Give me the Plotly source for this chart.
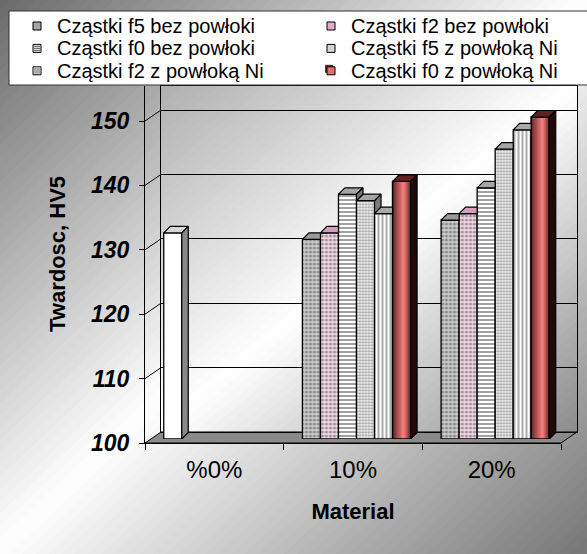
import plotly.graph_objects as go

# ---- data -------------------------------------------------------------
CATEGORIES = ["%0%", "10%", "20%"]
SERIES = [
    "Cząstki f5 bez powłoki",
    "Cząstki f2 bez powłoki",
    "Cząstki f0 bez powłoki",
    "Cząstki f5 z powłoką Ni",
    "Cząstki f2 z powłoką Ni",
    "Cząstki f0 z powłoką Ni",
]
f5_bez = [132, 131, 134]
f2_bez = [None, 132, 135]
f0_bez = [None, 138, 139]
f5_ni = [None, 137, 145]
f2_ni = [None, 135, 148]
f0_ni = [None, 140, 150]
VALUES = [f5_bez, f2_bez, f0_bez, f5_ni, f2_ni, f0_ni]
Y_TICKS = [100, 110, 120, 130, 140, 150]
BASE = 100

# ---- page geometry (pixels) ---------------------------------------------
W, H = 587, 554
PX_PER_UNIT = 6.44
TOP_PX = 86
FRONT_X, FRONT_BASE = (145, 561), 443      # front edge of the floor / value axis
BACK_X, BACK_BASE = (161, 577), 432        # back wall
BAR_DX, BAR_BASE = 3.5, 439                # bars stand in the middle of the floor
DEPTH = 6.5                                # bar depth, drawn up and to the right
CAT_PX = (FRONT_X[1] - FRONT_X[0]) / len(CATEGORIES)

FONT = "Liberation Sans, Arial, sans-serif"


def fx(px):
    return px / W


def fy(py):
    return 1 - py / H


def top_value(base_px):
    return BASE + (base_px - TOP_PX) / PX_PER_UNIT


# ---- background gradients as diagonal bands ---------------------------------
def clip(poly, f):
    out = []
    n = len(poly)
    for k in range(n):
        p, q = poly[k], poly[(k + 1) % n]
        fp, fq = f(p), f(q)
        if fp >= 0:
            out.append(p)
        if (fp >= 0) != (fq >= 0):
            s = fp / (fp - fq)
            out.append((p[0] + s * (q[0] - p[0]), p[1] + s * (q[1] - p[1])))
    return out


def gray(t, c0, c1):
    if t < 0.5:
        g = c0 + (255 - c0) * (t / 0.5)
    else:
        g = 255 - (255 - c1) * ((t - 0.5) / 0.5)
    g = int(round(g))
    return f"rgb({g},{g},{g})"


def gradient_bands(x0, y0, x1, y1, c0, c1, n=70):
    rect = [(x0, y0), (x1, y0), (x1, y1), (x0, y1)]

    def t(p):
        return ((p[0] - x0) / (x1 - x0) + (p[1] - y0) / (y1 - y0)) / 2

    shapes = []
    for k in range(n):
        a, b = k / n - 0.003, (k + 1) / n + 0.003
        poly = clip(rect, lambda p: t(p) - a)
        poly = clip(poly, lambda p: b - t(p))
        if len(poly) < 3:
            continue
        path = "M " + " L ".join(f"{fx(x):.5f},{fy(y):.5f}" for x, y in poly) + " Z"
        shapes.append(dict(type="path", path=path, xref="paper", yref="paper",
                           fillcolor=gray((k + 0.5) / n, c0, c1),
                           line=dict(width=0), layer="below"))
    return shapes


shapes = []
shapes += gradient_bands(0, 0, W, H, 105, 118, n=90)
shapes += gradient_bands(BACK_X[0], TOP_PX, BACK_X[1], BACK_BASE, 175, 140, n=70)

# floor slab
floor = [(FRONT_X[0], FRONT_BASE), (FRONT_X[1], FRONT_BASE),
         (BACK_X[1], BACK_BASE), (BACK_X[0], BACK_BASE)]
shapes.append(dict(type="path", xref="paper", yref="paper", layer="below",
                   path="M " + " L ".join(f"{fx(x):.5f},{fy(y):.5f}" for x, y in floor) + " Z",
                   fillcolor="#8a8a8a", line=dict(color="black", width=1)))

# grid lines running across the left side wall
for v in Y_TICKS[1:]:
    yf = FRONT_BASE - (v - BASE) * PX_PER_UNIT
    yb = BACK_BASE - (v - BASE) * PX_PER_UNIT
    shapes.append(dict(type="line", xref="paper", yref="paper", layer="below",
                       x0=fx(FRONT_X[0]), y0=fy(yf), x1=fx(BACK_X[0]), y1=fy(yb),
                       line=dict(color="black", width=1)))

# ---- bars -------------------------------------------------------------
N = len(SERIES)
BAR_W = 0.13
GROUP_START = -N * BAR_W / 2
x_idx = list(range(len(CATEGORIES)))

STYLES = [
    dict(color="#cfcfcf", shape=".", fg="#606060", size=4, sol=0.5, top="#9a9a9a", side="#6c6c6c"),
    dict(color="#f7dcea", shape=".", fg="#c874a4", size=4, sol=0.5, top="#d39fbe", side="#9a6a86"),
    dict(color="#ffffff", shape="-", fg="#8a8a8a", size=4, sol=0.5, top="#a6a6a6", side="#787878"),
    dict(color="#f6f6f6", shape=".", fg="#9c9c9c", size=3, sol=0.45, top="#a4a4a4", side="#7a7a7a"),
    dict(color="#ffffff", shape="|", fg="#7c7c7c", size=4, sol=0.45, top="#aaaaaa", side="#7c7c7c"),
    dict(color="#6e2c2c", shape="", fg="#6e2c2c", size=4, sol=0.5, top="#5e2222", side="#220808"),
]
PLAIN_TOP, PLAIN_SIDE = "#d8d8d8", "#888888"

# the front axes and the back wall each get their own (empty) trace so that
# their subplots are laid out and drawn
traces = [
    go.Scatter(x=[], y=[], xaxis="x", yaxis="y", hoverinfo="skip", showlegend=False),
    go.Scatter(x=[], y=[], xaxis="x2", yaxis="y2", hoverinfo="skip", showlegend=False),
]
for i in range(N):
    st = STYLES[i]
    vals = VALUES[i]
    colors = [st["color"]] * len(vals)
    pshapes = [st["shape"]] * len(vals)
    if i == 0:
        colors[0] = "#ffffff"
        pshapes[0] = ""
    traces.append(go.Bar(
        x=x_idx, y=[None if v is None else v - BASE for v in vals], base=BASE,
        width=BAR_W, offset=GROUP_START + i * BAR_W,
        name=SERIES[i], showlegend=False, hoverinfo="skip",
        xaxis="x3", yaxis="y3",
        marker=dict(color=colors, line=dict(color="black", width=1.3),
                    pattern=dict(shape=pshapes, fgcolor=st["fg"], size=st["size"],
                                 solidity=st["sol"], fillmode="overlay")),
    ))

# shaded front of the last series: narrower, lighter bars layered on top
def mix(c_a, c_b, s):
    a = [int(c_a[k:k + 2], 16) for k in (1, 3, 5)]
    b = [int(c_b[k:k + 2], 16) for k in (1, 3, 5)]
    return "#" + "".join(f"{int(round(a[j] + (b[j] - a[j]) * s)):02x}" for j in range(3))

EDGE, GLOW, PEAK = "#6e2c2c", "#f27c7c", 0.62
LEVELS = 8
last = VALUES[-1]
for k in range(1, LEVELS):
    a = 1 - k / LEVELS
    traces.append(go.Bar(
        x=x_idx, y=[None if v is None else v - BASE for v in last], base=BASE,
        width=BAR_W * a, offset=GROUP_START + (N - 1) * BAR_W + BAR_W * PEAK * (1 - a),
        showlegend=False, hoverinfo="skip", xaxis="x3", yaxis="y3",
        marker=dict(color=mix(EDGE, GLOW, k / (LEVELS - 1)), line=dict(width=0)),
    ))
traces.append(go.Bar(
    x=x_idx, y=[None if v is None else v - BASE for v in last], base=BASE,
    width=BAR_W, offset=GROUP_START + (N - 1) * BAR_W,
    showlegend=False, hoverinfo="skip", xaxis="x3", yaxis="y3",
    marker=dict(color="rgba(0,0,0,0)", line=dict(color="black", width=1.3)),
))

# top and right faces of each column
kx = DEPTH / CAT_PX
ky = DEPTH / PX_PER_UNIT
faces = {}
for c in range(len(CATEGORIES)):
    for i in range(N):
        h = VALUES[i][c]
        if h is None:
            continue
        L = c + GROUP_START + i * BAR_W
        R = L + BAR_W
        hn = VALUES[i + 1][c] if i + 1 < N else None
        plain = (i == 0 and c == 0)
        top_col = PLAIN_TOP if plain else STYLES[i]["top"]
        side_col = PLAIN_SIDE if plain else STYLES[i]["side"]
        if hn is not None and hn >= h + ky:
            # the neighbour's front hides everything right of this column
            top = [(L, h), (R, h), (R, h + ky), (L + kx, h + ky)]
        elif hn is not None and hn > h:
            top = [(L, h), (R, h), (R, hn), (R + kx * (hn - h) / ky, hn),
                   (R + kx, h + ky), (L + kx, h + ky)]
        else:
            top = [(L, h), (R, h), (R + kx, h + ky), (L + kx, h + ky)]
        faces.setdefault(top_col, []).append(top)
        hb = BASE if hn is None else hn
        if hb < h:
            side = [(R, hb), (R, h), (R + kx, h + ky), (R + kx, hb + ky)]
            faces.setdefault(side_col, []).append(side)

for col, polys in faces.items():
    xs, ys = [], []
    for poly in polys:
        xs += [p[0] for p in poly] + [poly[0][0], None]
        ys += [p[1] for p in poly] + [poly[0][1], None]
    traces.append(go.Scatter(x=xs, y=ys, mode="lines", fill="toself", fillcolor=col,
                             line=dict(color="black", width=1.2), hoverinfo="skip",
                             showlegend=False, xaxis="x3", yaxis="y3"))

fig = go.Figure(traces)

# ---- legend box ---------------------------------------------------------
shapes.append(dict(type="rect", xref="paper", yref="paper", layer="above",
                   x0=fx(9), y0=fy(11), x1=fx(W + 5), y1=fy(85),
                   fillcolor="white", line=dict(color="#333333", width=1)))
SWATCH = ["#a6a6a6", "#e0aecb", "#e4e4e4", "#d4d4d4", "#ffffff", "#e07070"]
SWATCH_STRIPES = [None, None, "h", None, "v", None]
ROW_Y = [26, 48.4, 70.8]
COL_SW = [33, 327]
COL_TX = [55, 349]
annotations = []
for k, name in enumerate(SERIES):
    r, cc = k // 2, k % 2
    y = ROW_Y[r]
    x0 = COL_SW[cc]
    if k == N - 1:
        shapes.append(dict(type="rect", xref="paper", yref="paper", layer="above",
                           x0=fx(x0 - 2), y0=fy(y - 6), x1=fx(x0 + 6), y1=fy(y + 2),
                           fillcolor="#6e2c2c", line=dict(width=0)))
    shapes.append(dict(type="rect", xref="paper", yref="paper", layer="above",
                       x0=fx(x0), y0=fy(y - 4), x1=fx(x0 + 8), y1=fy(y + 4),
                       fillcolor=SWATCH[k], line=dict(color="black", width=1)))
    for s in (-2, 0, 2):
        if SWATCH_STRIPES[k] == "h":
            shapes.append(dict(type="line", xref="paper", yref="paper", layer="above",
                               x0=fx(x0 + 1), x1=fx(x0 + 7), y0=fy(y + s), y1=fy(y + s),
                               line=dict(color="#666666", width=1)))
        elif SWATCH_STRIPES[k] == "v":
            shapes.append(dict(type="line", xref="paper", yref="paper", layer="above",
                               x0=fx(x0 + 4 + s), x1=fx(x0 + 4 + s), y0=fy(y - 3), y1=fy(y + 3),
                               line=dict(color="#555555", width=1)))
    annotations.append(dict(text=name, x=fx(COL_TX[cc]), y=fy(y), xref="paper", yref="paper",
                            xanchor="left", yanchor="middle", showarrow=False,
                            font=dict(family=FONT, size=20, color="black")))

annotations.append(dict(text="Twardosc, HV5", x=fx(57), y=fy(254), xref="paper", yref="paper",
                        textangle=-90, showarrow=False, xanchor="center", yanchor="middle",
                        font=dict(family=FONT, size=22, color="black", weight="bold")))

fig.update_layout(
    width=W, height=H, autosize=False,
    margin=dict(l=0, r=0, t=0, b=0),
    paper_bgcolor="white", plot_bgcolor="rgba(0,0,0,0)",
    barmode="overlay", showlegend=False,
    shapes=shapes, annotations=annotations,
    xaxis=dict(domain=[fx(FRONT_X[0]), fx(FRONT_X[1])], range=[-0.5, len(CATEGORIES) - 0.5],
               tickvals=x_idx, ticktext=CATEGORIES, ticks="", showgrid=False, zeroline=False,
               showline=True, linecolor="black", linewidth=1, anchor="y",
               minor=dict(tickvals=[c - 0.5 for c in range(len(CATEGORIES) + 1)],
                          ticks="outside", ticklen=6, tickcolor="black", showgrid=False),
               tickfont=dict(family=FONT, size=24, color="black"), ticklabelstandoff=5,
               title=dict(text="Material", standoff=21,
                          font=dict(family=FONT, size=22, color="black", weight="bold")),
               automargin=False),
    yaxis=dict(domain=[fy(FRONT_BASE), fy(TOP_PX)], range=[BASE, top_value(FRONT_BASE)],
               tickvals=Y_TICKS, ticks="outside", ticklen=5, tickcolor="black",
               showgrid=False, zeroline=False, showline=True, linecolor="black",
               linewidth=1, anchor="x", automargin=False, ticklabelstandoff=5,
               tickfont=dict(family=FONT, size=23, color="black", weight="bold",
                             style="italic")),
    xaxis2=dict(domain=[fx(BACK_X[0]), fx(BACK_X[1])], range=[0, 1], anchor="y2",
                showticklabels=False, ticks="", showgrid=False, zeroline=False,
                showline=True, mirror=True, linecolor="black", linewidth=1),
    yaxis2=dict(domain=[fy(BACK_BASE), fy(TOP_PX)], range=[BASE, top_value(BACK_BASE)],
                anchor="x2", tickvals=Y_TICKS, showticklabels=False, ticks="",
                showgrid=True, gridcolor="black", gridwidth=1, zeroline=False,
                showline=True, mirror=True, linecolor="black", linewidth=1),
    xaxis3=dict(domain=[fx(FRONT_X[0] + BAR_DX), fx(FRONT_X[1] + BAR_DX)],
                range=[-0.5, len(CATEGORIES) - 0.5], anchor="y3", visible=False),
    yaxis3=dict(domain=[fy(BAR_BASE), fy(TOP_PX)], range=[BASE, top_value(BAR_BASE)],
                anchor="x3", visible=False),
)

fig.write_html("out.html")
